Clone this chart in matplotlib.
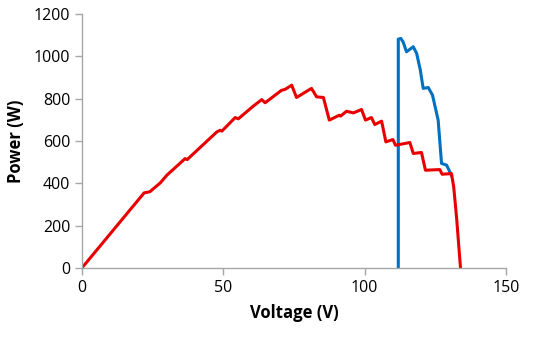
import matplotlib
matplotlib.use("Agg")
import matplotlib.pyplot as plt

red_v = [0, 22, 24, 27.7, 30, 36.5, 37.2, 47.7, 48.9, 49.5, 54.2, 55.3, 60.6, 63.6, 64.8,
         70.6, 71.8, 74.2, 75.9, 81.2, 83.0, 85.4, 87.5, 91.0, 91.5, 93.6, 96.0, 98.9, 100.3, 102.4,
         103.6, 106.0, 107.5, 110.0, 110.9, 116.0, 117.2, 120.1, 121.5, 126.6, 127.4,
         130.7, 131.5, 132.5, 133.9]
red_p = [0, 355, 360, 402, 438, 517, 512, 643, 651, 647, 711, 705, 765, 796, 781,
         840, 844, 864, 806, 849, 809, 806, 699, 722, 718, 741, 733, 749, 699, 711,
         678, 694, 596, 607, 580, 593, 541, 546, 462, 465, 443,
         446, 383, 241, 0]

blue_v = [111.9, 111.9, 112.8, 113.6, 114.8, 117.2, 118.4, 119.7, 120.7, 122.5, 124.0,
          126.0, 127.2, 129.0, 130.7]
blue_p = [0, 1082, 1085, 1069, 1022, 1046, 1014, 935, 849, 853, 817,
          699, 494, 486, 438]

x_ticks = [0, 50, 100, 150]
y_ticks = [0, 200, 400, 600, 800, 1000, 1200]

plt.rcParams['font.family'] = ['Open Sans', 'DejaVu Sans']

fig = plt.figure(figsize=(5.5, 3.37), dpi=100)
ax = fig.add_axes([0.149, 0.205, 0.771, 0.753])

ax.plot(blue_v, blue_p, color='#0070C0', lw=2.2, solid_joinstyle='round')
ax.plot(red_v, red_p, color='#E80000', lw=2.2, solid_joinstyle='round')

ax.set_xlim(0, 150)
ax.set_ylim(0, 1200)
ax.set_xticks(x_ticks)
ax.set_yticks(y_ticks)
for s in ['top', 'right']:
    ax.spines[s].set_visible(False)
for s in ['left', 'bottom']:
    ax.spines[s].set_color('#a6a6a6')
    ax.spines[s].set_linewidth(1.0)
ax.tick_params(axis='both', colors='#a6a6a6', labelcolor='black', labelsize=11.5,
               length=5, width=1.0, direction='out')
ax.set_xlabel('Voltage (V)', fontsize=12, fontweight='bold', labelpad=6)
ax.set_ylabel('Power (W)', fontsize=12, fontweight='bold', labelpad=6)

fig.savefig('out.png', dpi=100)
